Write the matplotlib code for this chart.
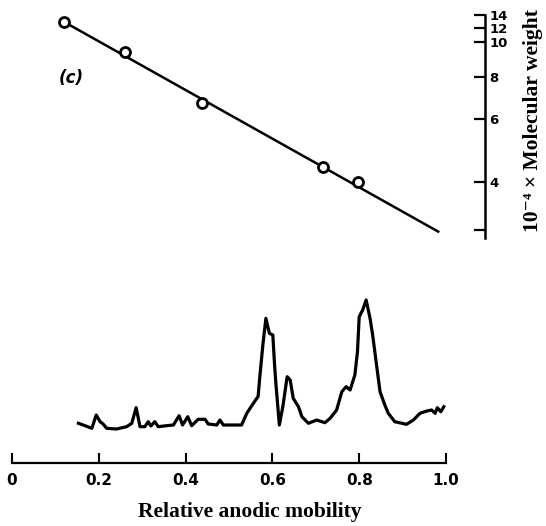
import numpy as np
import matplotlib
matplotlib.use('Agg')
import matplotlib.pyplot as plt
from matplotlib.ticker import FixedLocator, NullFormatter

# panel (c): log molecular weight against mobility
mobility = [0.12, 0.26, 0.438, 0.717, 0.797]
mol_weight = [12.9, 9.4, 6.7, 4.4, 4.0]
fit_x = [0.12, 0.982]
fit_y = [12.9, 2.97]

# the printed axis is hand drawn: tick values and where they sit (u, pixels up from axis foot)
axis_vals = [2, 3, 4, 6, 8, 10, 12, 14, 20]
axis_u = [-55, 8, 56, 119, 161, 196, 210, 223, 279]
y_ticks = [3, 4, 6, 8, 10, 12, 14]
y_ticklabels = ['', '4', '6', '8', '10', '12', '14']

# densitometer scan
scan_x = [0.153, 0.164, 0.184, 0.194, 0.203, 0.210, 0.218, 0.241, 0.264, 0.276,
          0.286, 0.295, 0.306, 0.314, 0.320, 0.329, 0.337, 0.356, 0.372, 0.385,
          0.393, 0.405, 0.414, 0.429, 0.445, 0.452, 0.472, 0.479, 0.487, 0.502,
          0.529, 0.541, 0.552, 0.564, 0.567, 0.571, 0.578, 0.585, 0.593, 0.601,
          0.605, 0.608, 0.616, 0.624, 0.634, 0.641, 0.648, 0.660, 0.668, 0.683,
          0.702, 0.721, 0.733, 0.748, 0.760, 0.770, 0.779, 0.790, 0.796, 0.800,
          0.808, 0.816, 0.825, 0.831, 0.836, 0.842, 0.848, 0.859, 0.867, 0.882,
          0.909, 0.925, 0.940, 0.956, 0.967, 0.975, 0.980, 0.988, 0.995]
scan_y = [6.7, 5, 1.7, 15, 8.3, 6, 1.7, 1, 3.3, 6.7,
          22.3, 3.3, 3.3, 8.3, 4, 8.3, 3.3, 4.3, 5, 14.3,
          5, 13.3, 4.3, 10.7, 10.7, 6, 5, 10, 5, 5,
          5, 16.7, 24, 31.7, 33.3, 53.3, 85, 111.7, 96.7, 95,
          65, 46.7, 5, 23.3, 53.3, 50, 31.7, 23.3, 13.3, 6.7,
          10, 7.3, 11.7, 20, 38.3, 43.3, 40, 55, 78.3, 113.3,
          120, 130, 111.7, 95, 78.3, 58.3, 38.3, 25, 16.7, 8.3,
          5.7, 10, 16.7, 19, 20, 16.7, 22.3, 18.3, 23.3]
x_ticks = [0, 0.2, 0.4, 0.6, 0.8, 1.0]
x_ticklabels = ['0', '0.2', '0.4', '0.6', '0.8', '1.0']

lv = np.log10(axis_vals)


def fwd(y):
    y = np.clip(np.asarray(y, dtype=float), 1e-3, None)
    return np.interp(np.log10(y), lv, axis_u)


def inv(u):
    return 10 ** np.interp(u, axis_u, lv)


W, H = 546, 526
fig = plt.figure(figsize=(W / 100, H / 100), dpi=100)

# top panel
ax1 = fig.add_axes([12 / W, 1 - 238 / H, (485 - 12) / W, (238 - 15) / H])
ax1.set_yscale('function', functions=(fwd, inv))
ax1.set_xlim(0, (485 - 12) / 434)
ax1.set_ylim(2.85, 14)
ax1.plot(fit_x, fit_y, color='black', lw=1.8, zorder=2)
ax1.plot(mobility, mol_weight, 'o', ms=7.2, mfc='white', mec='black', mew=2, zorder=3)
for s in ['top', 'left', 'bottom']:
    ax1.spines[s].set_visible(False)
ax1.spines['right'].set_linewidth(1.8)
ax1.set_xticks([])
ax1.yaxis.tick_right()
ax1.yaxis.set_major_locator(FixedLocator(y_ticks))
ax1.yaxis.set_minor_formatter(NullFormatter())
ax1.yaxis.set_minor_locator(FixedLocator([]))
ax1.set_yticklabels(y_ticklabels, fontdict=dict(family='DejaVu Sans', weight='bold', size=9.5))
ax1.tick_params(axis='y', direction='in', length=8, width=1.6, pad=3)
ax1.patch.set_alpha(0)

fig.text(71 / W, 1 - 78 / H, '(c)', ha='center', va='center',
         fontsize=12, fontweight='bold', fontstyle='italic', family='DejaVu Sans')
fig.text(533 / W, 1 - 121 / H, '10⁻⁴ × Molecular weight', rotation=90,
         ha='center', va='center', fontsize=15.5, fontweight='bold',
         family=['Liberation Serif', 'DejaVu Serif'])

# bottom panel
ax2 = fig.add_axes([12 / W, 1 - 463 / H, 434 / W, (463 - 290) / H])
ax2.plot(scan_x, scan_y, color='black', lw=2.3, solid_joinstyle='round')
ax2.set_xlim(0, 1)
ax2.set_ylim(-33, 140)
for s in ['top', 'left', 'right']:
    ax2.spines[s].set_visible(False)
ax2.spines['bottom'].set_linewidth(1.6)
ax2.set_yticks([])
ax2.set_xticks(x_ticks)
ax2.set_xticklabels(x_ticklabels, fontdict=dict(family='DejaVu Sans', weight='bold', size=11))
ax2.tick_params(axis='x', direction='in', length=7, width=1.5, pad=7)
ax2.patch.set_alpha(0)

fig.text(250 / W, 1 - 512 / H, 'Relative anodic mobility', ha='center', va='center',
         fontsize=15.5, fontweight='bold', family='Liberation Serif')

fig.savefig('out.png', dpi=100)
